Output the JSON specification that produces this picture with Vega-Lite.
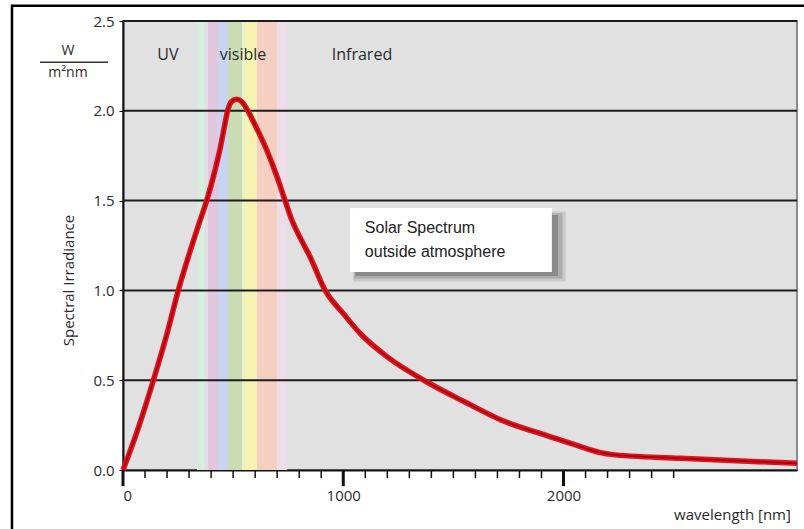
{
  "$schema": "https://vega.github.io/schema/vega-lite/v6.json",
  "width": 674,
  "height": 449,
  "autosize": {"type": "none"},
  "padding": {"left": 123, "top": 21, "right": 7, "bottom": 59},
  "background": "white",
  "config": {
    "font": "Open Sans",
    "view": {"fill": "#e1e1e1", "stroke": "#8a8a8a", "strokeWidth": 2}
  },
  "encoding": {
    "x": {"type": "quantitative", "scale": {"domain": [0, 3060], "nice": false, "zero": false}},
    "y": {"type": "quantitative", "scale": {"domain": [0, 2.5], "nice": false}}
  },
  "layer": [
    {
      "data": {"values": [
        {"start": 336, "end": 372, "c": "#d6eedd"},
        {"start": 372, "end": 386, "c": "#e6dde4"},
        {"start": 386, "end": 431, "c": "#e2c6de"},
        {"start": 431, "end": 477, "c": "#c9d5f0"},
        {"start": 477, "end": 540, "c": "#c9dcb3"},
        {"start": 540, "end": 554, "c": "#ecefd0"},
        {"start": 554, "end": 608, "c": "#f4f3b2"},
        {"start": 608, "end": 699, "c": "#f5cfc1"},
        {"start": 699, "end": 746, "c": "#ecdde8"}
      ]},
      "mark": {"type": "rect"},
      "encoding": {
        "x": {"field": "start", "type": "quantitative", "axis": {
            "values": [0, 1000, 2000],
            "format": "d",
            "labelFontSize": 15,
            "labelColor": "#2a2a2a",
            "labelPadding": 18,
            "ticks": false,
            "domainColor": "#111",
            "domainWidth": 2,
            "grid": false,
            "title": "wavelength [nm]",
            "titleX": 609,
            "titleY": 44,
            "titleAlign": "center",
            "titleBaseline": "middle",
            "titleFontSize": 15,
            "titleFontWeight": "normal",
            "titleColor": "#2a2a2a"
          }},
        "x2": {"field": "end"},
        "y": {"datum": 0, "type": "quantitative", "axis": {
            "values": [0, 0.5, 1.0, 1.5, 2.0, 2.5],
            "format": ".1f",
            "labelFontSize": 15,
            "labelColor": "#2a2a2a",
            "labelPadding": 5,
            "tickSize": 4,
            "tickColor": "#111",
            "domainColor": "#111",
            "domainWidth": 2,
            "grid": false,
            "title": "Spectral Irradiance",
            "titleX": -55,
            "titleY": 259,
            "titleAngle": -90,
            "titleAlign": "center",
            "titleBaseline": "middle",
            "titleFontSize": 15,
            "titleFontWeight": "normal",
            "titleColor": "#2a2a2a"
          }},
        "y2": {"datum": 2.5},
        "color": {"field": "c", "type": "nominal", "scale": null}
      }
    },
    {
      "data": {"values": [{"v": 0.5}, {"v": 1.0}, {"v": 1.5}, {"v": 2.0}, {"v": 2.5}]},
      "mark": {"type": "rule", "color": "#1c1c1c", "strokeWidth": 2},
      "encoding": {
        "y": {"field": "v", "type": "quantitative"}
      }
    },
    {
      "data": {"values": [
        {"v": 100}, {"v": 200}, {"v": 300}, {"v": 400}, {"v": 500}, {"v": 600}, {"v": 700}, {"v": 800}, {"v": 900},
        {"v": 1100}, {"v": 1200}, {"v": 1300}, {"v": 1400}, {"v": 1500}, {"v": 1600}, {"v": 1700}, {"v": 1800}, {"v": 1900},
        {"v": 2100}, {"v": 2200}, {"v": 2300}, {"v": 2400}, {"v": 2500}
      ]},
      "mark": {"type": "rule", "color": "#111", "strokeWidth": 1.5, "clip": false},
      "encoding": {
        "x": {"field": "v", "type": "quantitative"},
        "y": {"datum": 0},
        "y2": {"datum": -0.045}
      }
    },
    {
      "data": {"values": [{"v": 0}, {"v": 1000}, {"v": 2000}]},
      "mark": {"type": "rule", "color": "#111", "strokeWidth": 3, "clip": false},
      "encoding": {
        "x": {"field": "v", "type": "quantitative"},
        "y": {"datum": 0.0},
        "y2": {"datum": -0.09}
      }
    },
    {
      "data": {"values": [{"k": 1}]},
      "mark": {"type": "rect", "color": "#000", "opacity": 0.1},
      "encoding": {
        "x": {"datum": 1045},
        "x2": {"datum": 2010},
        "y": {"datum": 1.44},
        "y2": {"datum": 1.05}
      }
    },
    {
      "data": {"values": [{"k": 1}]},
      "mark": {"type": "rect", "color": "#000", "opacity": 0.14},
      "encoding": {
        "x": {"datum": 1050},
        "x2": {"datum": 1995},
        "y": {"datum": 1.43},
        "y2": {"datum": 1.065}
      }
    },
    {
      "data": {"values": [{"k": 1}]},
      "mark": {"type": "rect", "color": "#000", "opacity": 0.2},
      "encoding": {
        "x": {"datum": 1055},
        "x2": {"datum": 1975},
        "y": {"datum": 1.42},
        "y2": {"datum": 1.08}
      }
    },
    {
      "data": {"values": [{"k": 1}]},
      "mark": {"type": "rect", "color": "#ffffff"},
      "encoding": {
        "x": {"datum": 1030},
        "x2": {"datum": 1947},
        "y": {"datum": 1.459},
        "y2": {"datum": 1.102}
      }
    },
    {
      "data": {"name": "curve", "values": [
        {"wl": 0, "irr": 0},
        {"wl": 60, "irr": 0.2},
        {"wl": 138, "irr": 0.5},
        {"wl": 200, "irr": 0.76},
        {"wl": 251, "irr": 1.0},
        {"wl": 300, "irr": 1.2},
        {"wl": 350, "irr": 1.39},
        {"wl": 380, "irr": 1.5},
        {"wl": 420, "irr": 1.68},
        {"wl": 441, "irr": 1.79},
        {"wl": 460, "irr": 1.91},
        {"wl": 475, "irr": 2.0},
        {"wl": 492, "irr": 2.05},
        {"wl": 517, "irr": 2.065},
        {"wl": 540, "irr": 2.05},
        {"wl": 562, "irr": 2.01},
        {"wl": 600, "irr": 1.92},
        {"wl": 653, "irr": 1.78},
        {"wl": 700, "irr": 1.63},
        {"wl": 736, "irr": 1.5},
        {"wl": 767, "irr": 1.39},
        {"wl": 810, "irr": 1.28},
        {"wl": 850, "irr": 1.185},
        {"wl": 918, "irr": 1.0},
        {"wl": 1001, "irr": 0.87},
        {"wl": 1077, "irr": 0.76},
        {"wl": 1200, "irr": 0.63},
        {"wl": 1380, "irr": 0.49},
        {"wl": 1550, "irr": 0.38},
        {"wl": 1714, "irr": 0.28},
        {"wl": 1941, "irr": 0.185},
        {"wl": 2077, "irr": 0.13},
        {"wl": 2168, "irr": 0.097},
        {"wl": 2214, "irr": 0.087},
        {"wl": 2532, "irr": 0.065},
        {"wl": 3060, "irr": 0.037}
      ]},
      "mark": {"type": "line", "color": "#e3141e", "strokeWidth": 5.5, "interpolate": "monotone"},
      "encoding": {
        "x": {"field": "wl", "type": "quantitative"},
        "y": {"field": "irr", "type": "quantitative"}
      }
    },
    {
      "data": {"name": "curve"},
      "mark": {"type": "line", "color": "#a3000f", "strokeWidth": 1.8, "interpolate": "monotone"},
      "encoding": {
        "x": {"field": "wl", "type": "quantitative"},
        "y": {"field": "irr", "type": "quantitative"}
      }
    },
    {
      "data": {"values": [
        {"wl": 204, "label": "UV"},
        {"wl": 545, "label": "visible"},
        {"wl": 1085, "label": "Infrared"}
      ]},
      "mark": {"type": "text", "fontSize": 16, "color": "#2a2a2a", "align": "center", "baseline": "middle"},
      "encoding": {
        "x": {"field": "wl", "type": "quantitative"},
        "y": {"datum": 2.31},
        "text": {"field": "label"}
      }
    },
    {
      "data": {"values": [
        {"line": "Solar Spectrum", "lv": 1.347},
        {"line": "outside atmosphere", "lv": 1.214}
      ]},
      "mark": {"type": "text", "fontSize": 16, "color": "#222", "align": "left", "baseline": "middle", "font": "Liberation Sans"},
      "encoding": {
        "x": {"datum": 1098},
        "y": {"field": "lv", "type": "quantitative"},
        "text": {"field": "line"}
      }
    },
    {
      "data": {"values": [
        {"t": "W", "lv": 2.335},
        {"t": "m²nm", "lv": 2.21}
      ]},
      "mark": {"type": "text", "color": "#2a2a2a", "align": "center", "baseline": "middle", "clip": false, "fontSize": 14},
      "encoding": {
        "x": {"datum": -250},
        "y": {"field": "lv", "type": "quantitative"},
        "text": {"field": "t"}
      }
    },
    {
      "data": {"values": [{"k": 1}]},
      "mark": {"type": "rule", "color": "#333", "strokeWidth": 1.5, "clip": false},
      "encoding": {
        "x": {"datum": -377},
        "x2": {"datum": -68},
        "y": {"datum": 2.27}
      }
    },
    {
      "data": {"values": [{"k": 1}]},
      "mark": {"type": "rect", "filled": false, "stroke": "#000", "strokeWidth": 2.5, "clip": false},
      "encoding": {
        "x": {"datum": -504},
        "x2": {"datum": 4000},
        "y": {"datum": 2.585},
        "y2": {"datum": -2}
      }
    }
  ]
}
